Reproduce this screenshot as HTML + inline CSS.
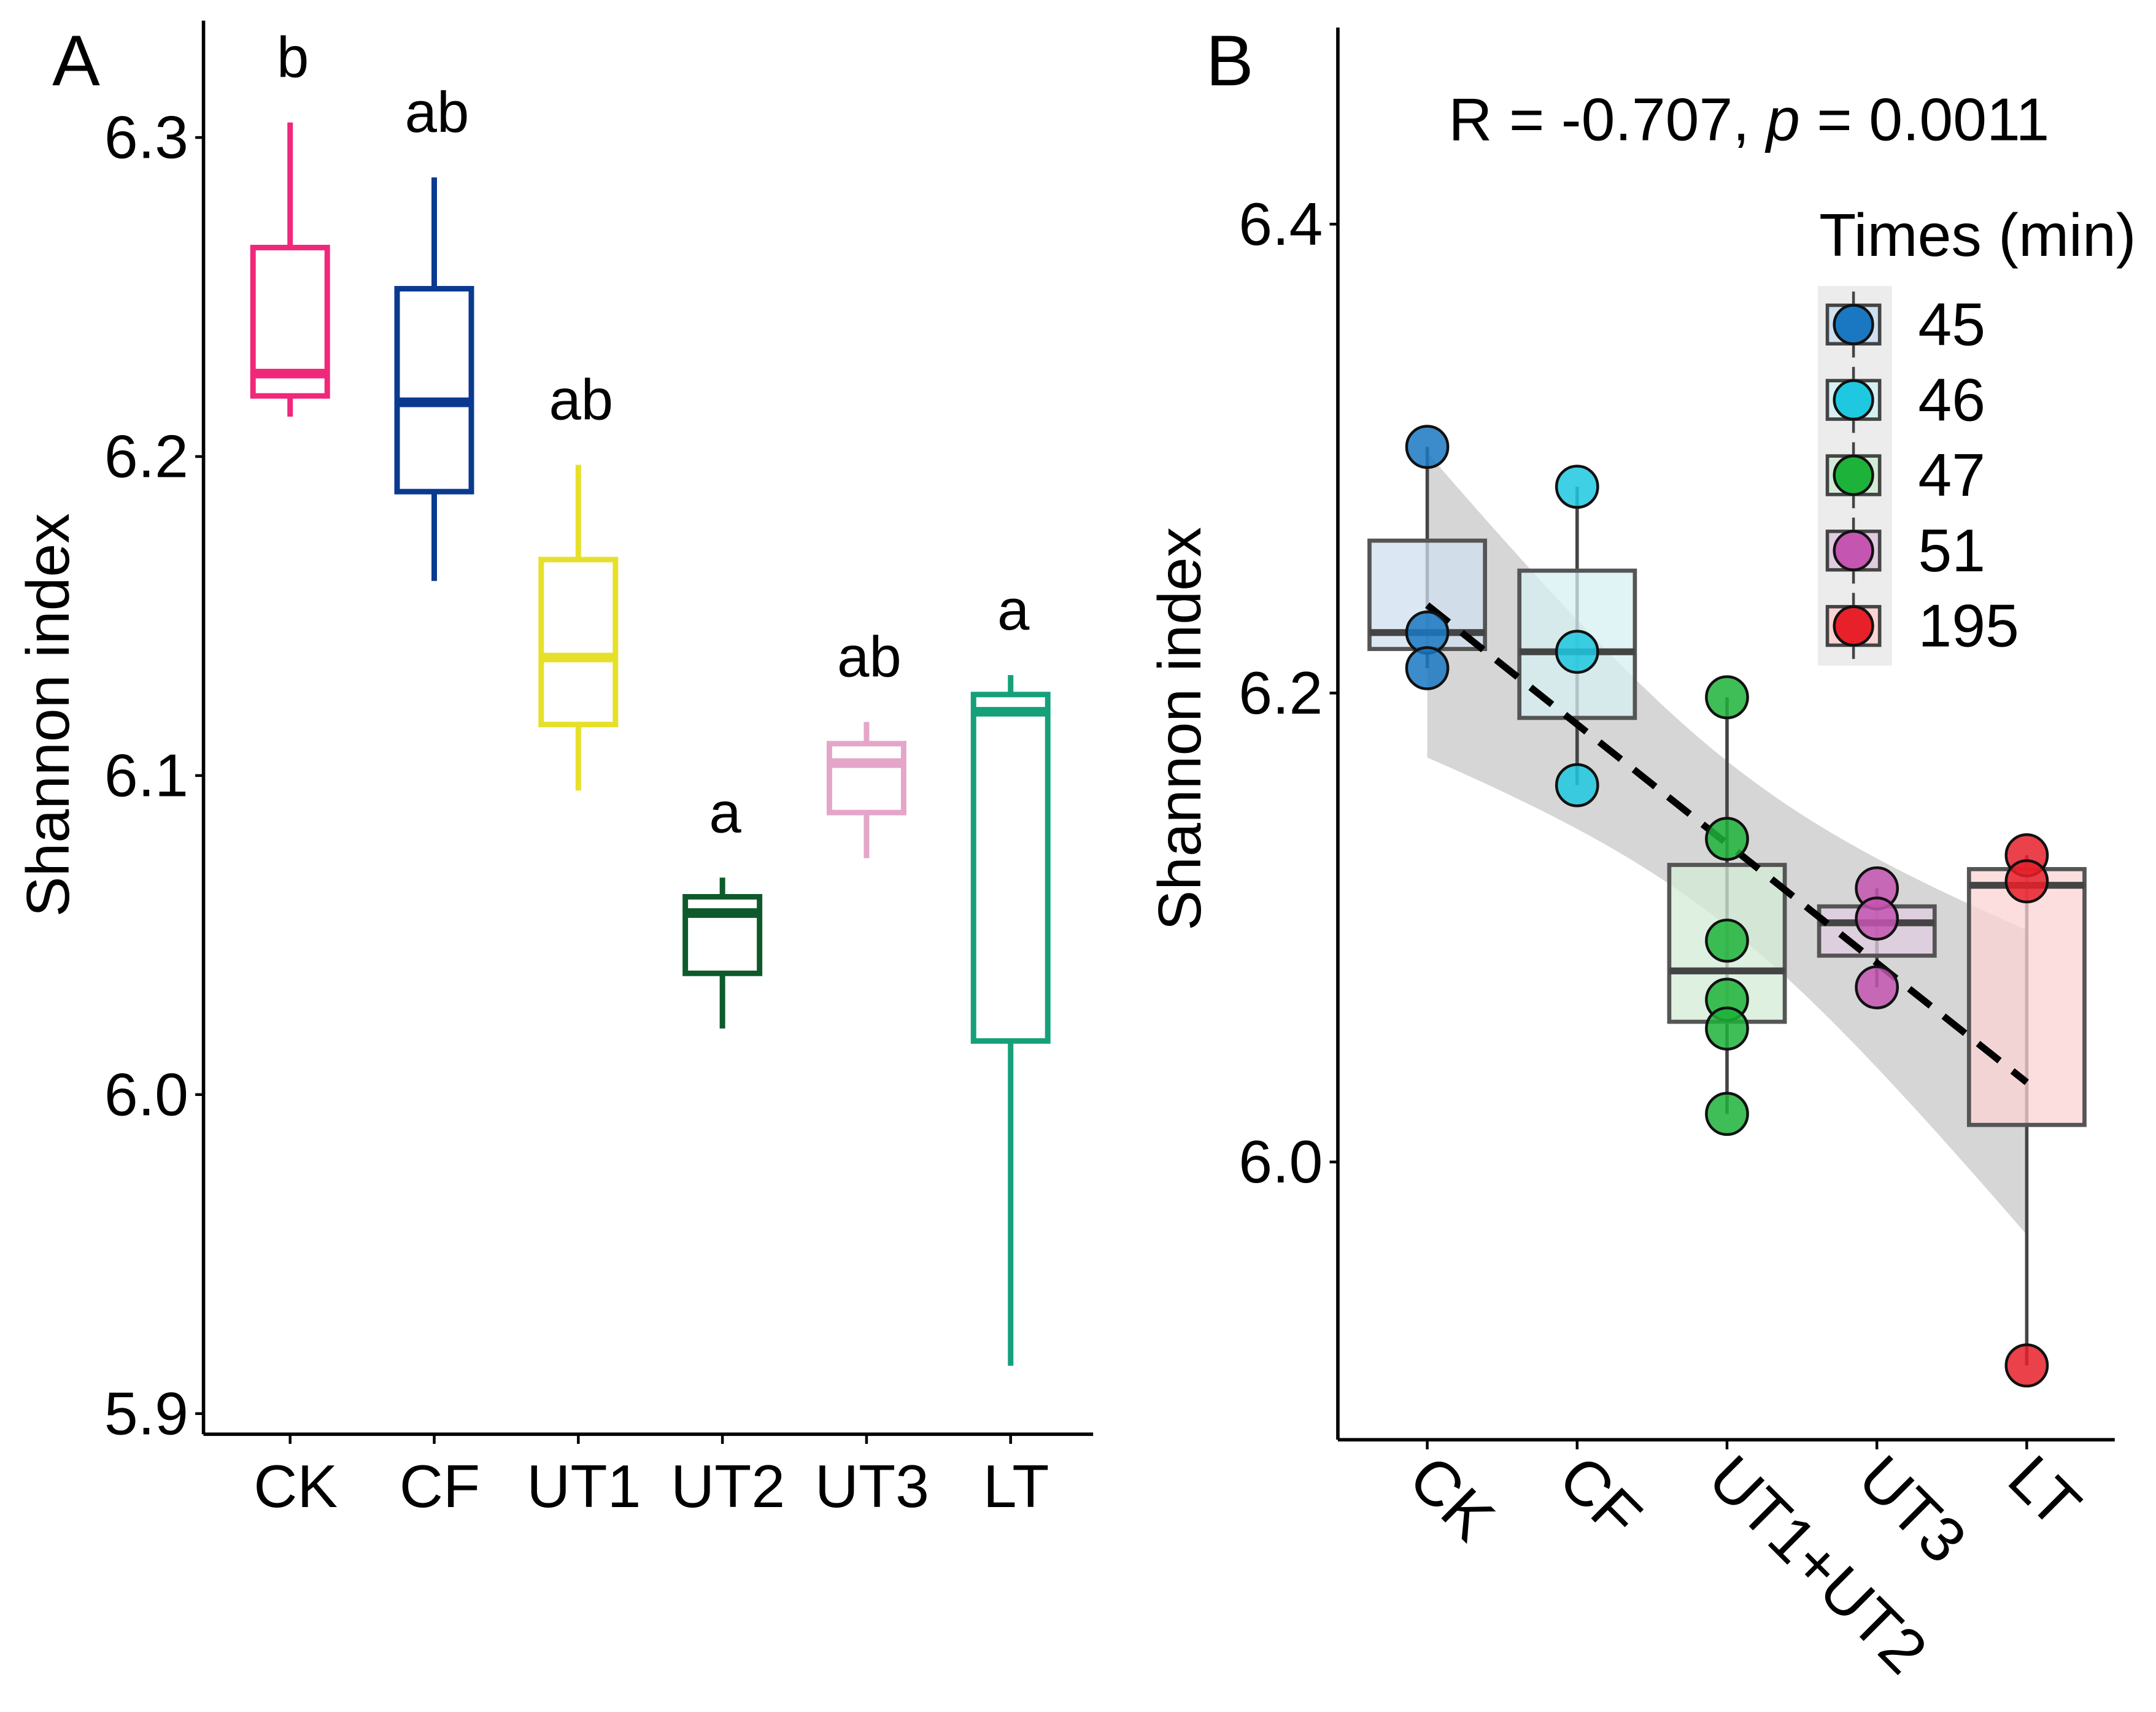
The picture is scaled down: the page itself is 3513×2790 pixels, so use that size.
<!DOCTYPE html>
<html><head><meta charset="utf-8"><style>
html,body{margin:0;padding:0;background:#fff}
svg{display:block}
text{font-family:"Liberation Sans",Arial,sans-serif;fill:#000}
</style></head><body>
<svg id="chart" width="3513" height="2790" viewBox="0 0 1568 1245" preserveAspectRatio="none" xmlns="http://www.w3.org/2000/svg">
<g id="pa"></g>
<g id="pb"></g>
</svg>
<script>
const NS="http://www.w3.org/2000/svg";
// Panel A data
const catsA=["CK","CF","UT1","UT2","UT3","LT"];
const lowA=[6.2125,6.161,6.0953,6.0207,6.0741,5.915];
const q1A=[6.219,6.189,6.116,6.038,6.0884,6.0168];
const medA=[6.226,6.217,6.137,6.0569,6.1039,6.12];
const q3A=[6.2655,6.2526,6.1677,6.062,6.110,6.1254];
const hiA=[6.3047,6.2875,6.1974,6.068,6.1168,6.1315];
const lettersA=["b","ab","ab","a","ab","a"];
const colorsA=["#f0287a","#0a3a8f","#e6e02a","#0e5a2a","#e4a6c8","#16a07a"];
const ticksA=[5.9,6.0,6.1,6.2,6.3];
// Panel B data
const catsB=["CK","CF","UT1+UT2","UT3","LT"];
const lowB=[6.2106,6.1607,6.0205,6.0745,5.9132];
const q1B=[6.2188,6.1894,6.0598,6.088,6.0158];
const medB=[6.2258,6.2176,6.0815,6.102,6.118];
const q3B=[6.265,6.2522,6.1267,6.109,6.1249];
const hiB=[6.305,6.288,6.1982,6.1167,6.1308];
const ptsB=[[6.305,6.2258,6.2106],[6.288,6.2176,6.1607],[6.1982,6.1378,6.0944,6.0692,6.0569,6.0205],[6.1167,6.1038,6.0745],[6.1308,6.1197,5.9132]];
const fillB=["#cfe0f0","#d6f0f2","#d3ecd6","#e0cce0","#fcd3d3"];
const ptColB=["#1a78c2","#1ec8e0","#1db33a","#c455b0","#e8202a"];
const legendLabels=["45","46","47","51","195"];
const ticksB=[6.0,6.2,6.4];

function el(parent,tag,attrs,name,inter,txt){
  const e=document.createElementNS(NS,tag);
  for(const k in attrs)e.setAttribute(k,attrs[k]);
  
  
  if(txt!==undefined)e.textContent=txt;
  parent.appendChild(e);return e;
}
const FS=44;
// Panel A
const pa=document.getElementById('pa');
const yA=v=>100+(6.3-v)*2320;
const xA=i=>211+i*104.8;
el(pa,'text',{x:38,y:62,'font-size':52},'panel-a-label',false,'A');
el(pa,'line',{x1:148,y1:15,x2:148,y2:1043,stroke:'#000','stroke-width':2.5},'y-axis-a',false);
el(pa,'line',{x1:148,y1:1043,x2:795,y2:1043,stroke:'#000','stroke-width':2.5},'x-axis-a',false);
ticksA.forEach(t=>{
  el(pa,'line',{x1:142,y1:yA(t),x2:148,y2:yA(t),stroke:'#000','stroke-width':2},'y-tick-a',false);
  el(pa,'text',{x:137,y:yA(t)+15,'font-size':FS,'text-anchor':'end'},'y-tick-label-a',false,t.toFixed(1));
});
el(pa,'text',{x:50,y:520,'font-size':FS,'text-anchor':'middle',transform:'rotate(-90 50 520)'},'y-axis-title-a',false,'Shannon index');
catsA.forEach((c,i)=>{
  const x=xA(i),w=27,col=colorsA[i];
  el(pa,'line',{x1:x,y1:1043,x2:x,y2:1050,stroke:'#000','stroke-width':2},'x-tick-a',false);
  el(pa,'text',{x:x+4,y:1096,'font-size':FS,'text-anchor':'middle'},'x-tick-label-a',false,c);
  el(pa,'line',{x1:x,y1:yA(lowA[i]),x2:x,y2:yA(hiA[i]),stroke:col,'stroke-width':4},'whisker-'+c.toLowerCase(),false);
  el(pa,'rect',{x:x-w,y:yA(q3A[i]),width:2*w,height:yA(q1A[i])-yA(q3A[i]),fill:'#fff',stroke:col,'stroke-width':4},'box-'+c.toLowerCase(),false);
  el(pa,'line',{x1:x-w,y1:yA(medA[i]),x2:x+w,y2:yA(medA[i]),stroke:col,'stroke-width':7},'median-'+c.toLowerCase(),false);
  el(pa,'text',{x:x+2,y:yA(hiA[i])-33,'font-size':FS-2,'text-anchor':'middle'},'sig-letter-'+c.toLowerCase(),false,lettersA[i]);
});
// Panel B
const pb=document.getElementById('pb');
const yB=v=>163+(6.4-v)*1705;
const xB=i=>1038+i*109;
el(pb,'text',{x:877,y:62,'font-size':52},'panel-b-label',false,'B');
const xs=[],ys=[];
ptsB.forEach((a,i)=>a.forEach(v=>{xs.push(i);ys.push(v);}));
const n=xs.length,mx=xs.reduce((a,b)=>a+b)/n,my=ys.reduce((a,b)=>a+b)/n;
let sxx=0,sxy=0;xs.forEach((x,k)=>{sxx+=(x-mx)**2;sxy+=(x-mx)*(ys[k]-my);});
const b1=sxy/sxx,b0=my-b1*mx;
let sse=0;xs.forEach((x,k)=>{sse+=(ys[k]-b0-b1*x)**2;});
const s=Math.sqrt(sse/(n-2)),tq=2.12;
const up=[],dn=[];
for(let k=0;k<=40;k++){const x=k*4/40,f=b0+b1*x,se=tq*s*Math.sqrt(1/n+(x-mx)**2/sxx);
  up.push(xB(x)+','+yB(f+se));dn.unshift(xB(x)+','+yB(f-se));}
el(pb,'polygon',{points:up.concat(dn).join(' '),fill:'#999','fill-opacity':0.4},'confidence-band',false);
catsB.forEach((c,i)=>{
  const x=xB(i),w=42;
  el(pb,'line',{x1:x,y1:yB(lowB[i]),x2:x,y2:yB(hiB[i]),stroke:'#444','stroke-width':2.5},'whisker-b-'+i,false);
  el(pb,'rect',{x:x-w,y:yB(q3B[i]),width:2*w,height:yB(q1B[i])-yB(q3B[i]),fill:fillB[i],'fill-opacity':0.75,stroke:'#555','stroke-width':3},'box-b-'+i,false);
  el(pb,'line',{x1:x-w,y1:yB(medB[i]),x2:x+w,y2:yB(medB[i]),stroke:'#444','stroke-width':5},'median-b-'+i,false);
});
el(pb,'line',{x1:xB(0),y1:yB(b0),x2:xB(4),y2:yB(b0+4*b1),stroke:'#000','stroke-width':5,'stroke-dasharray':'20 12'},'regression-line',false);
ptsB.forEach((a,i)=>a.forEach(v=>{
  el(pb,'circle',{cx:xB(i),cy:yB(v),r:15,fill:ptColB[i],'fill-opacity':0.85,stroke:'#111','stroke-width':2},'point-'+catsB[i].toLowerCase(),false);
}));
el(pb,'line',{x1:973,y1:20,x2:973,y2:1047,stroke:'#000','stroke-width':2.5},'y-axis-b',false);
el(pb,'line',{x1:973,y1:1047,x2:1538,y2:1047,stroke:'#000','stroke-width':2.5},'x-axis-b',false);
ticksB.forEach(t=>{
  el(pb,'line',{x1:967,y1:yB(t),x2:973,y2:yB(t),stroke:'#000','stroke-width':2},'y-tick-b',false);
  el(pb,'text',{x:962,y:yB(t)+15,'font-size':FS,'text-anchor':'end'},'y-tick-label-b',false,t.toFixed(1));
});
el(pb,'text',{x:873,y:530,'font-size':FS,'text-anchor':'middle',transform:'rotate(-90 873 530)'},'y-axis-title-b',false,'Shannon index');
catsB.forEach((c,i)=>{
  const x=xB(i);
  el(pb,'line',{x1:x,y1:1047,x2:x,y2:1054,stroke:'#000','stroke-width':2},'x-tick-b',false);
  el(pb,'text',{x:x-16,y:1078,'font-size':FS+2,transform:`rotate(45 ${x-16} 1078)`},'x-tick-label-b',false,c);
});
const ann=el(pb,'text',{x:1272,y:102,'font-size':FS,'text-anchor':'middle'},'correlation-annotation',false);
ann.innerHTML='R = -0.707, <tspan font-style="italic">p</tspan> = 0.0011';
el(pb,'text',{x:1323,y:186,'font-size':FS},'legend-title',false,'Times (min)');
el(pb,'rect',{x:1322,y:208,width:54,height:276,fill:'#ececec'},'legend-key-bg',false);
legendLabels.forEach((l,i)=>{
  const cy=236+i*54.8;
  el(pb,'line',{x1:1348,y1:cy-24,x2:1348,y2:cy+24,stroke:'#444','stroke-width':2},'legend-key-whisker',false);
  el(pb,'rect',{x:1329,y:cy-14,width:38,height:28,fill:fillB[i],stroke:'#444','stroke-width':2.5},'legend-key-box',false);
  el(pb,'circle',{cx:1348,cy:cy,r:14,fill:ptColB[i],stroke:'#111','stroke-width':2},'legend-key-point',false);
  el(pb,'text',{x:1395,y:cy+15,'font-size':FS},'legend-label',false,l);
});
</script>
</body></html>
